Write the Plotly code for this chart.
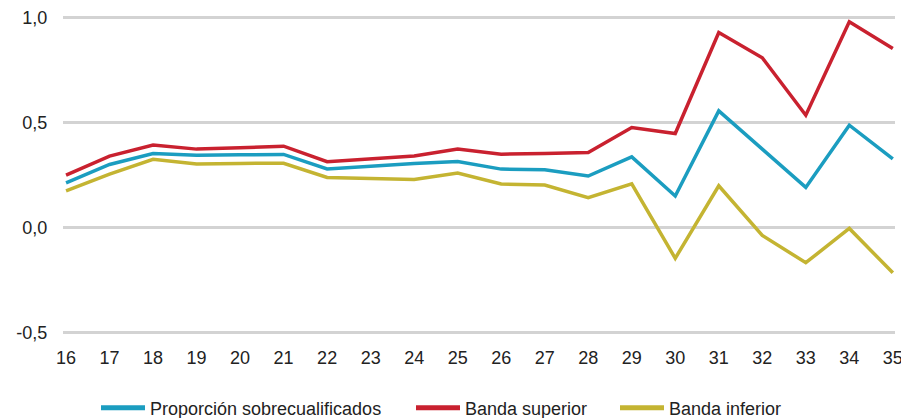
import plotly.graph_objects as go

edades = list(range(16, 36))
proporcion = [0.213, 0.300, 0.352, 0.344, 0.346, 0.348, 0.279, 0.294, 0.305, 0.314,
              0.278, 0.275, 0.245, 0.336, 0.150, 0.555, 0.374, 0.191, 0.487, 0.327]
banda_sup = [0.249, 0.340, 0.392, 0.373, 0.379, 0.387, 0.313, 0.327, 0.340, 0.373,
             0.349, 0.352, 0.357, 0.476, 0.447, 0.927, 0.807, 0.534, 0.978, 0.851]
banda_inf = [0.175, 0.254, 0.325, 0.302, 0.305, 0.306, 0.238, 0.234, 0.229, 0.259,
             0.207, 0.202, 0.142, 0.208, -0.146, 0.199, -0.037, -0.167, -0.004, -0.215]
y_ticks = [-0.5, 0.0, 0.5, 1.0]
y_labels = ["-0,5", "0,0", "0,5", "1,0"]

series = [
    ("Proporción sobrecualificados", proporcion, "#1b9dc0"),
    ("Banda superior", banda_sup, "#c9212f"),
    ("Banda inferior", banda_inf, "#c4b432"),
]
legend_ids = ["legend", "legend2", "legend3"]
legend_x = [88, 403, 607]   # px from the figure's left edge

fig = go.Figure()
for name, vals, col in series:
    fig.add_trace(go.Scatter(x=edades, y=vals, mode="lines", name=name, legendgroup=name,
                             showlegend=False, line=dict(color=col, width=3.5)))
# legend-only entries with a thicker key line, one legend each
for (name, vals, col), lid in zip(series, legend_ids):
    fig.add_trace(go.Scatter(x=[None], y=[None], mode="lines", name=name, legendgroup=name,
                             showlegend=True, legend=lid, line=dict(color=col, width=5)))

W, H = 901, 410  # page body adds an 8px offset inside the 909x418 window
font = "Liberation Sans, Arial, sans-serif"
leg_common = dict(orientation="h", xref="container", yref="container",
                  xanchor="left", y=0.0244, yanchor="middle",
                  font=dict(size=18), itemwidth=44, bgcolor="rgba(0,0,0,0)")
fig.update_layout(
    width=W, height=H,
    margin=dict(l=55, r=14, t=5, b=81, autoexpand=False),
    paper_bgcolor="white", plot_bgcolor="white",
    font=dict(family=font, size=18, color="#222222"),
    showlegend=True,
    legend=dict(x=legend_x[0] / W, **leg_common),
    legend2=dict(x=legend_x[1] / W, **leg_common),
    legend3=dict(x=legend_x[2] / W, **leg_common),
    xaxis=dict(range=[15.93, 35.05], tickmode="array", tickvals=edades,
               ticktext=[str(e) for e in edades], showgrid=False, zeroline=False,
               showline=False, ticks="outside", ticklen=4, tickcolor="rgba(0,0,0,0)",
               automargin=False, ticklabeloverflow="allow"),
    yaxis=dict(range=[-0.52, 1.02], tickmode="array", tickvals=y_ticks, ticktext=y_labels,
               showgrid=True, gridcolor="#d3d3d3", gridwidth=2.7, zeroline=False,
               showline=False, ticks="outside", ticklen=11, tickcolor="rgba(0,0,0,0)",
               automargin=False, ticklabeloverflow="allow"),
)
fig.write_html("out.html")
